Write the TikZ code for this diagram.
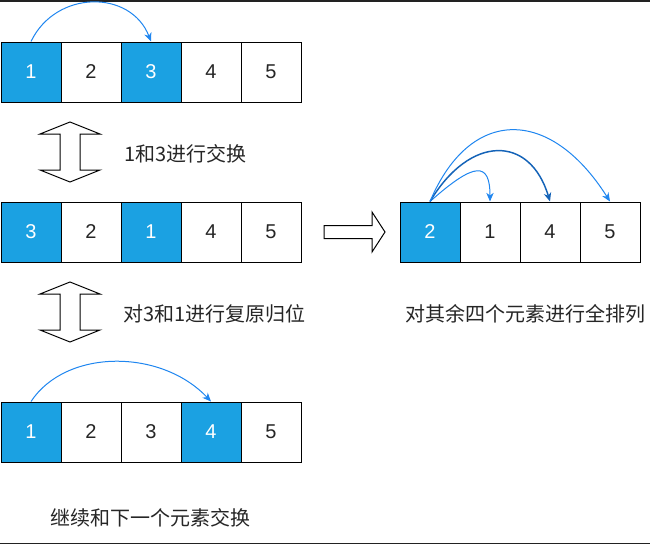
\documentclass[tikz,border=0pt]{standalone}
\usepackage{fontspec}
\setmainfont{Liberation Sans}
\newfontfamily\cjk{Noto Sans CJK SC}
\usetikzlibrary{arrows.meta}

\definecolor{cellblue}{HTML}{1BA1E2}
\definecolor{arcblue}{HTML}{1F86F0}
\definecolor{arcdark}{HTML}{1463B8}
\definecolor{edge}{HTML}{222222}

\tikzset{
  cell/.style={draw=black,line width=0.75pt,minimum size=45pt,inner sep=0pt,
    font=\fontsize{15pt}{18pt}\selectfont},
  cellon/.style={cell,fill=cellblue,text=white},
  celloff/.style={cell,fill=white,text=black!85},
  lbl/.style={anchor=west,inner sep=0pt,text=black!85,
    font=\fontsize{15pt}{18pt}\selectfont\cjk},
  arc/.style={draw=arcblue,line width=0.75pt,
    -{Stealth[length=6.5pt,width=5.5pt,inset=2pt]}},
  swaparrow/.pic={
    \draw[line width=0.75pt,fill=white] (0,-30) -- (30,-18) -- (10,-18) -- (10,18) -- (30,18)
      -- (0,30) -- (-30,18) -- (-10,18) -- (-10,-18) -- (-30,-18) -- cycle;
  }
}

\begin{document}
\begin{tikzpicture}[x=0.75pt,y=-0.75pt]
  \useasboundingbox[fill=white] (0,0) rectangle (650,544);
  \fill[edge] (0,0) rectangle (650,2);
  \fill[edge] (0,542.5) rectangle (650,544);

  % first row: 1 and 3 swap
  \foreach \i/\v/\s in {1/1/on,2/2/off,3/3/on,4/4/off,5/5/off}
    \node[cell\s] (a\i) at ({60*\i-29},72) {\v};
  \draw[arc] (a1.north) .. controls +(25,-52) and +(-20,-52) .. (a3.north);

  \pic at (70,152) {swaparrow};
  \node[lbl] (t1) at (124,154) {1和3进行交换};

  % second row after the swap
  \foreach \i/\v/\s in {1/3/on,2/2/off,3/1/on,4/4/off,5/5/off}
    \node[cell\s] (b\i) at ({60*\i-29},232) {\v};

  \pic at (70,312) {swaparrow};
  \node[lbl] (t2) at (123,314) {对3和1进行复原归位};

  % third row: next swap
  \foreach \i/\v/\s in {1/1/on,2/2/off,3/3/off,4/4/on,5/5/off}
    \node[cell\s] (c\i) at ({60*\i-29},432) {\v};
  \draw[arc] (c1.north) .. controls +(35,-53) and +(-50,-53) .. (c4.north);

  \node[lbl] (t3) at (50,518) {继续和下一个元素交换};

  % right part: the remaining four
  \draw[line width=0.75pt,fill=white] (324,225.5) -- (372,225.5) -- (372,212) -- (385,232)
    -- (372,252) -- (372,238.5) -- (324,238.5) -- cycle;

  \foreach \i/\v/\s in {1/2/on,2/1/off,3/4/off,4/5/off}
    \node[cell\s] (d\i) at ({60*\i+370},232) {\v};
  \draw[arc] (d1.north) .. controls +(45,-40) and +(0,-40) .. (d2.north);
  \draw[arc,draw=arcdark,line width=1.1pt] (d1.north) .. controls +(40,-67) and +(-20,-67) .. (d3.north);
  \draw[arc] (d1.north) .. controls +(40,-95) and +(-60,-95) .. (d4.north);

  \node[lbl] (t4) at (405,314) {对其余四个元素进行全排列};
\end{tikzpicture}
\end{document}
